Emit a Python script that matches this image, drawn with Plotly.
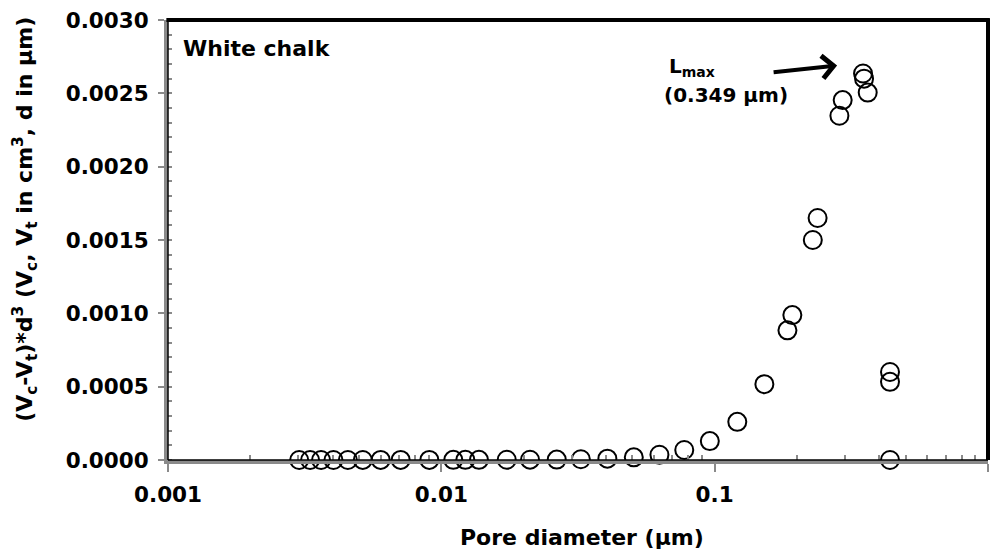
import numpy as np
import plotly.graph_objects as go

# Pore size distribution of white chalk
pore_diameter_um = [
    0.00302, 0.00331, 0.00363, 0.00403, 0.00455, 0.00516, 0.0060, 0.0071,
    0.00904, 0.01106, 0.01224, 0.01373, 0.01735, 0.02111, 0.02644, 0.0324,
    0.0405, 0.0506, 0.0628, 0.0774, 0.096, 0.121, 0.152, 0.1846, 0.1924,
    0.2286, 0.238, 0.286, 0.294, 0.349, 0.352, 0.363, 0.438, 0.438, 0.438,
]
weighted_volume = [
    0.0000001, 0.0000001, 0.0000001, 0.0000002, 0.0000002, 0.0000003, 0.0000004, 0.0000005,
    0.0000007, 0.0000009, 0.000001, 0.0000012, 0.0000016, 0.000002, 0.000003, 0.000005,
    0.000009, 0.000018, 0.000036, 0.000068, 0.000129, 0.00026, 0.000517, 0.000884, 0.000988,
    0.0015, 0.00165, 0.002347, 0.002454, 0.002635, 0.0026, 0.002505, 0.0006, 0.000533, 0.0,
]

x_tick_vals = [0.001, 0.01, 0.1, 1]
x_tick_text = ["0.001", "0.01", "0.1", "1"]
x_minor_vals = [m * 10.0 ** e for e in (-3, -2, -1) for m in range(2, 10)]

lmax_um = 0.349
arrow_tip = (0.2805, 0.00269)

FONT = "DejaVu Sans"
GRAY = "#8a8a8a"

fig = go.Figure()
fig.add_trace(go.Scatter(
    x=pore_diameter_um, y=weighted_volume, mode="markers",
    marker=dict(symbol="circle-open", size=18, color="black", line=dict(width=2, color="black")),
    showlegend=False, cliponaxis=False,
))

tick_font = dict(family=FONT, size=21.5, color="black", weight="bold")

fig.update_layout(
    width=991, height=553,
    margin=dict(l=168, r=3, t=20, b=93),
    paper_bgcolor="white", plot_bgcolor="white",
    font=dict(family=FONT, size=20, color="black", weight="bold"),
    xaxis=dict(
        type="log", range=[-3, 0],
        tickmode="array", tickvals=x_tick_vals, ticktext=x_tick_text,
        ticks="outside", ticklen=8, tickwidth=2, tickcolor=GRAY,
        showline=True, linecolor=GRAY, linewidth=4,
        showgrid=False, zeroline=False,
        tickfont=tick_font,
        ticklabelstandoff=4,
        minor=dict(tickmode="array", tickvals=x_minor_vals, ticks="inside",
                   ticklen=5, tickwidth=1.5, tickcolor=GRAY, showgrid=False),
    ),
    yaxis=dict(
        range=[0, 0.003], dtick=0.0005, tickformat=".4f",
        ticks="outside", ticklen=6, tickwidth=2, tickcolor=GRAY,
        showline=True, linecolor=GRAY, linewidth=4,
        showgrid=False, zeroline=False,
        tickfont=tick_font,
        ticklabelstandoff=5,
        minor=dict(dtick=0.0001, ticks="inside", ticklen=4, tickwidth=1.5,
                   tickcolor=GRAY, showgrid=False),
    ),
)

# frame: black core on bottom/left axes, heavy black top and right edges
fig.add_shape(type="line", xref="paper", yref="paper", x0=0, x1=1, y0=0, y1=0,
              line=dict(color="black", width=1.5), layer="above")
fig.add_shape(type="line", xref="paper", yref="paper", x0=0, x1=0, y0=0, y1=1,
              line=dict(color="black", width=1.5), layer="above")
fig.add_shape(type="line", xref="paper", yref="paper", x0=-0.002, x1=1.002, y0=1, y1=1,
              line=dict(color="black", width=4), layer="above")
fig.add_shape(type="line", xref="paper", yref="paper", x0=1, x1=1, y0=0, y1=1.004,
              line=dict(color="black", width=4), layer="above")

title_font = dict(family=FONT, size=22, color="black", weight="bold")

fig.add_annotation(
    text="(V<sub>c</sub>-V<sub>t</sub>)*d<sup>3</sup> (V<sub>c</sub>, V<sub>t</sub> in cm<sup>3</sup>, d in µm)",
    xref="paper", yref="paper", x=-0.1744, y=0.548, xanchor="center", yanchor="middle",
    textangle=-90, showarrow=False, font=title_font,
)
fig.add_annotation(
    text="Pore diameter (µm)", xref="paper", yref="paper", x=0.505, y=-0.175,
    xanchor="center", yanchor="middle", showarrow=False, font=title_font,
)
fig.add_annotation(
    text="White chalk", xref="paper", yref="paper", x=0.016, y=0.936,
    xanchor="left", yanchor="middle", showarrow=False, font=title_font,
)
fig.add_annotation(
    text="L<sub>max</sub>", xref="paper", yref="paper", x=0.6085, y=0.893,
    xanchor="left", yanchor="middle", showarrow=False,
    font=dict(family=FONT, size=20, color="black", weight="bold"),
)
fig.add_annotation(
    text=f"({lmax_um} µm)", xref="paper", yref="paper", x=0.6024, y=0.829,
    xanchor="left", yanchor="middle", showarrow=False,
    font=dict(family=FONT, size=20, color="black", weight="bold"),
)
fig.add_annotation(
    text="", x=np.log10(arrow_tip[0]), y=arrow_tip[1], xref="x", yref="y",
    showarrow=True, ax=-65, ay=7, arrowhead=4, arrowsize=1.1, arrowwidth=4,
    arrowcolor="black",
)

fig.write_html("out.html")
